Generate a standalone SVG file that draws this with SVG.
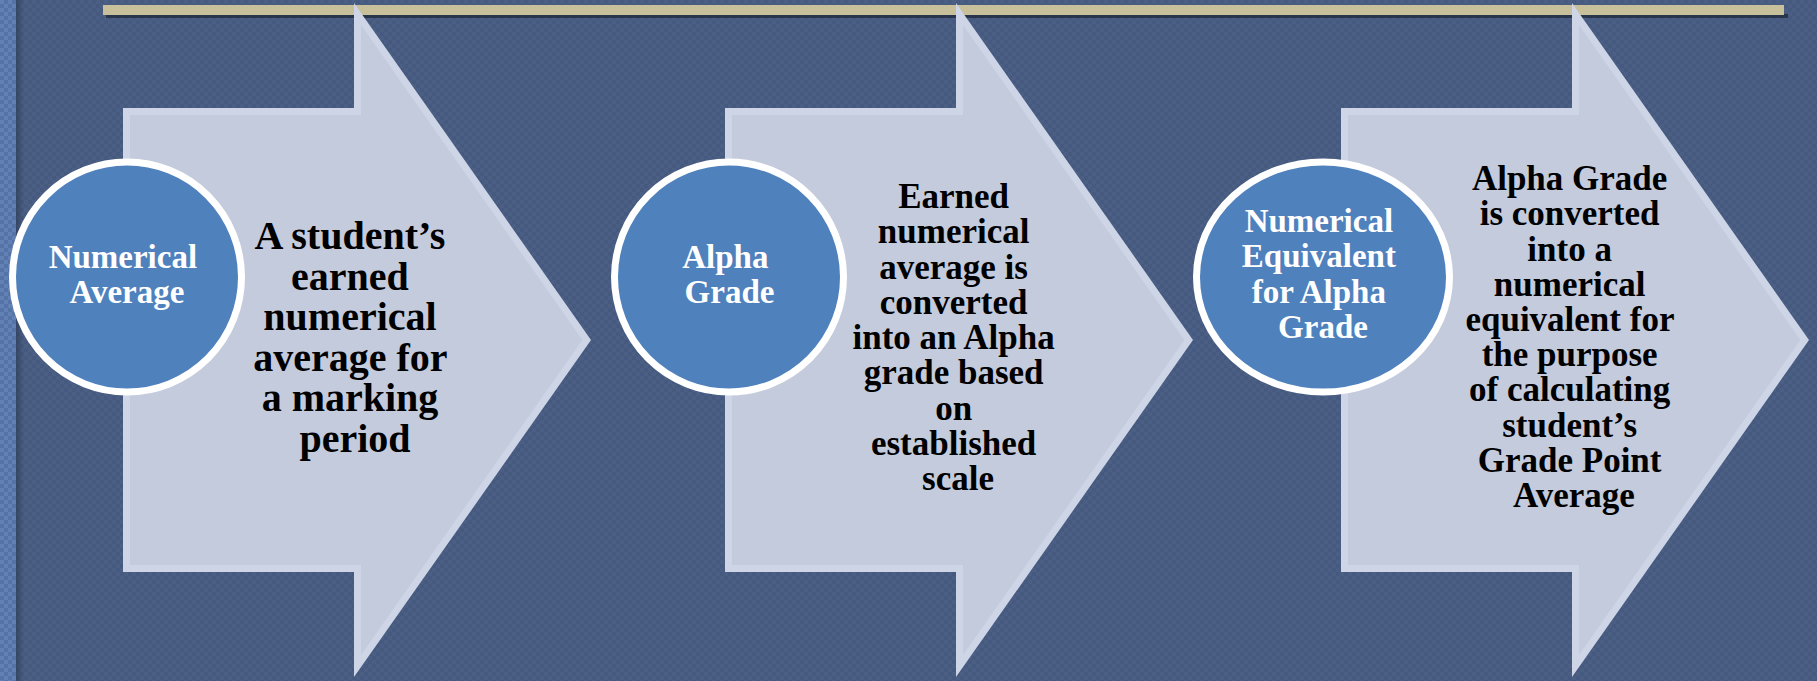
<svg xmlns="http://www.w3.org/2000/svg" width="1817" height="681" viewBox="0 0 1817 681">
<style>
.arrow-outer{fill:#cdd5e6}
.arrow-inner{fill:#c3cbdd}
.circ{fill:#4f81bd;stroke:#ffffff;stroke-width:7}
.ctext{font-family:"Liberation Serif","Times New Roman",serif;font-weight:bold;font-size:33px;fill:#ffffff;text-anchor:middle}
.btext1{font-family:"Liberation Serif","Times New Roman",serif;font-weight:bold;font-size:40px;fill:#000000;text-anchor:middle}
.btext{font-family:"Liberation Serif","Times New Roman",serif;font-weight:bold;font-size:35px;fill:#000000;text-anchor:middle}
</style>
<defs>
<pattern id="bgchk" width="8" height="8" patternUnits="userSpaceOnUse">
<rect width="8" height="8" fill="#465a7f"/>
<rect width="4" height="4" fill="#4b5f85"/>
<rect x="4" y="4" width="4" height="4" fill="#4b5f85"/>
</pattern>
<pattern id="stripchk" width="8" height="8" patternUnits="userSpaceOnUse">
<rect width="8" height="8" fill="#5573a7"/>
<rect width="4" height="4" fill="#6180b4"/>
<rect x="4" y="4" width="4" height="4" fill="#6180b4"/>
</pattern>
<linearGradient id="stripshade" x1="0" y1="0" x2="1" y2="0">
<stop offset="0" stop-color="#1e2a40" stop-opacity="0.45"/>
<stop offset="1" stop-color="#1e2a40" stop-opacity="0"/>
</linearGradient>
<g id="arrowShape">
<polygon class="arrow-outer" points="0,108 231,108 231,3 468,340 231,677 231,572 0,572"/>
<polygon class="arrow-inner" points="7,115 238,115 238,25 459.4,340 238,655 238,565 7,565"/>
</g>
</defs>

<g id="background">
<rect x="0" y="0" width="1817" height="681" fill="url(#bgchk)"/>
<rect x="16" y="0" width="8" height="681" fill="url(#stripshade)"/>
<rect x="0" y="0" width="16" height="681" fill="url(#stripchk)"/>
<rect x="106" y="14" width="1682" height="4" fill="#141a26" opacity="0.6"/>
<rect x="103" y="5" width="1681" height="10" fill="#c8c09a"/>
</g>

<g id="step1">
<use href="#arrowShape" transform="translate(123,0)"/>
<text class="btext1">
<tspan x="355" y="249">A student’s</tspan>
<tspan x="355" y="290">earned</tspan>
<tspan x="355" y="330">numerical</tspan>
<tspan x="355" y="371">average for</tspan>
<tspan x="355" y="411">a marking</tspan>
<tspan x="355" y="452">period</tspan>
</text>
</g>

<g id="step2">
<use href="#arrowShape" transform="translate(725,0)"/>
<text class="btext">
<tspan x="958" y="208">Earned</tspan>
<tspan x="958" y="243">numerical</tspan>
<tspan x="958" y="278.5">average is</tspan>
<tspan x="958" y="314">converted</tspan>
<tspan x="958" y="349">into an Alpha</tspan>
<tspan x="958" y="384">grade based</tspan>
<tspan x="958" y="419.5">on</tspan>
<tspan x="958" y="455">established</tspan>
<tspan x="958" y="490">scale</tspan>
</text>
</g>

<g id="step3">
<use href="#arrowShape" transform="translate(1341,0)"/>
<text class="btext">
<tspan x="1574" y="190">Alpha Grade</tspan>
<tspan x="1574" y="225">is converted</tspan>
<tspan x="1574" y="260.5">into a</tspan>
<tspan x="1574" y="295.5">numerical</tspan>
<tspan x="1574" y="331">equivalent for</tspan>
<tspan x="1574" y="366">the purpose</tspan>
<tspan x="1574" y="401">of calculating</tspan>
<tspan x="1574" y="436.5">student’s</tspan>
<tspan x="1574" y="471.5">Grade Point</tspan>
<tspan x="1574" y="507">Average</tspan>
</text>
</g>

<g id="node-numerical-average">
<ellipse class="circ" cx="127" cy="277" rx="114.5" ry="115"/>
<text class="ctext">
<tspan x="127" y="268">Numerical</tspan>
<tspan x="127" y="303">Average</tspan>
</text>
</g>

<g id="node-alpha-grade">
<ellipse class="circ" cx="729" cy="277" rx="114.5" ry="115"/>
<text class="ctext">
<tspan x="729.5" y="268">Alpha</tspan>
<tspan x="729.5" y="303">Grade</tspan>
</text>
</g>

<g id="node-numerical-equivalent">
<ellipse class="circ" cx="1323" cy="277" rx="126.5" ry="115"/>
<text class="ctext">
<tspan x="1323" y="232">Numerical</tspan>
<tspan x="1323" y="267">Equivalent</tspan>
<tspan x="1323" y="303">for Alpha</tspan>
<tspan x="1323" y="338">Grade</tspan>
</text>
</g>
</svg>
